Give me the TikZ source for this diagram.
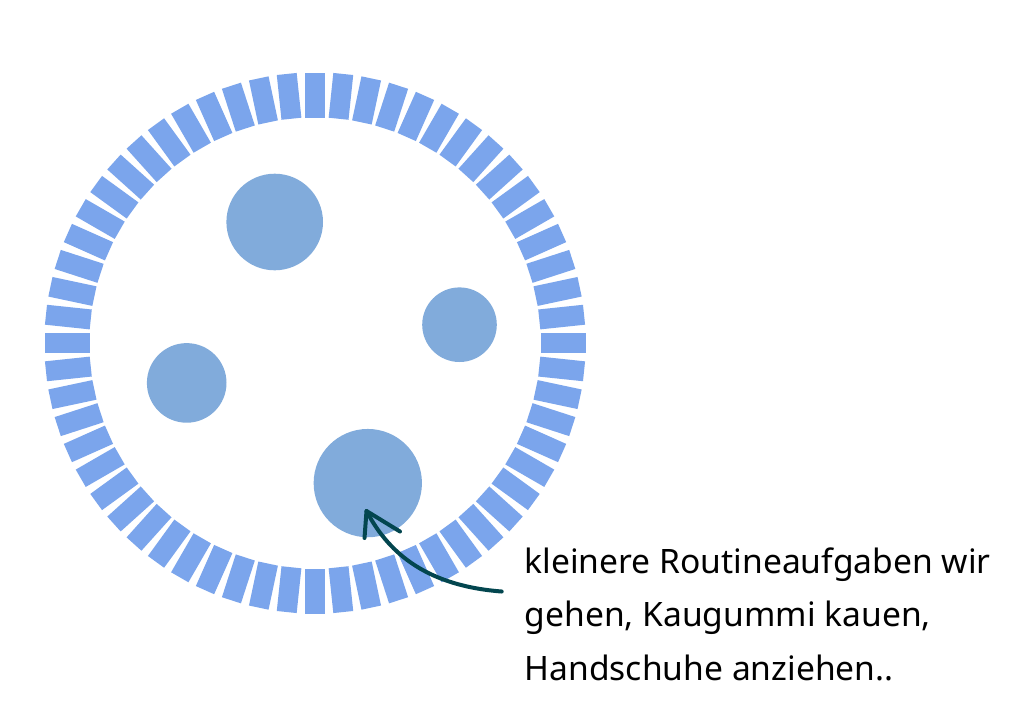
\documentclass[tikz,border=0pt]{standalone}
\usepackage{fontspec}
\setmainfont{Noto Sans}
\definecolor{seg}{HTML}{7BA5EC}
\definecolor{dot}{HTML}{81ABDB}
\definecolor{arr}{HTML}{03464F}
\begin{document}
\begin{tikzpicture}[x=1pt,y=-1pt,
  segbar/.style={fill=seg,draw=none},
  dotnode/.style={circle,fill=dot,draw=none,inner sep=0pt},
  arrline/.style={draw=arr,line width=4pt,line cap=round,line join=round},
  lbl/.style={anchor=base west,inner sep=0pt,font=\fontsize{33.6}{40}\selectfont,text=black}]
\useasboundingbox (0,0) rectangle (1024,724);
\fill[white] (0,0) rectangle (1024,724);
\foreach \a in {0,6,...,354} {
  \fill[segbar, rotate around={\a:(315,343)}] (305,72.5) rectangle (325,117.5);
}
\node[dotnode, minimum size=96.6pt] (c1) at (274.7,222) {};
\node[dotnode, minimum size=74.6pt] (c2) at (459.5,324.7) {};
\node[dotnode, minimum size=79.6pt] (c3) at (186.7,382.9) {};
\node[dotnode, minimum size=108.3pt] (c4) at (367.8,483.1) {};
\coordinate (tail) at (501.7,591.5);
\coordinate (tip) at (366.5,511);
\draw[arrline] (tail) .. controls (430,586) and (390,556) .. (tip);
\draw[arrline] (364.5,538) -- (tip) -- (400,531.5);
\node[lbl] (l1) at (524.5,573.3) {kleinere Routineaufgaben wir};
\node[lbl] (l2) at (524.5,626.7) {gehen, Kaugummi kauen,};
\node[lbl] (l3) at (524.5,680) {Handschuhe anziehen..};
\end{tikzpicture}
\end{document}
